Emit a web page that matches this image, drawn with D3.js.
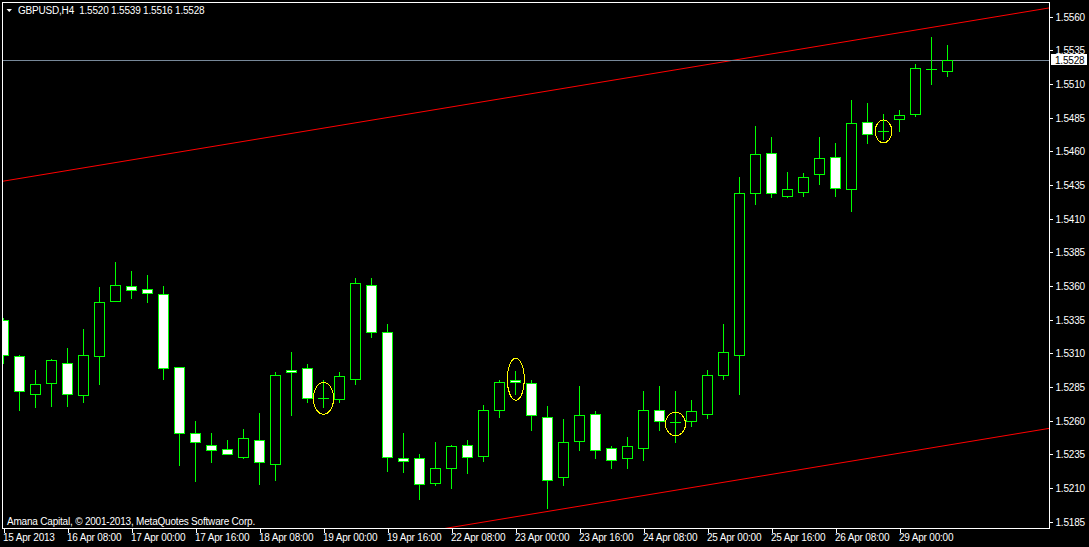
<!DOCTYPE html>
<html>
<head>
<meta charset="utf-8">
<script src="https://cdn.jsdelivr.net/npm/d3@7"></script>
<style>
  html, body { margin: 0; padding: 0; background: #000; }
  svg { display: block; }
  text { font-family: "Liberation Sans", Arial, sans-serif; font-size: 10px; white-space: pre; letter-spacing: -0.2px; }
</style>
</head>
<body>
<svg id="chart" width="1089" height="547"></svg>
<script>
// ---------------- DATA ----------------
const symbol = "GBPUSD";
const timeframe = "H4";
const times = [
  "2013.04.15 16:00","2013.04.15 20:00",
  "2013.04.16 00:00","2013.04.16 04:00","2013.04.16 08:00","2013.04.16 12:00","2013.04.16 16:00","2013.04.16 20:00",
  "2013.04.17 00:00","2013.04.17 04:00","2013.04.17 08:00","2013.04.17 12:00","2013.04.17 16:00","2013.04.17 20:00",
  "2013.04.18 00:00","2013.04.18 04:00","2013.04.18 08:00","2013.04.18 12:00","2013.04.18 16:00","2013.04.18 20:00",
  "2013.04.19 00:00","2013.04.19 04:00","2013.04.19 08:00","2013.04.19 12:00","2013.04.19 16:00","2013.04.19 20:00",
  "2013.04.22 00:00","2013.04.22 04:00","2013.04.22 08:00","2013.04.22 12:00","2013.04.22 16:00","2013.04.22 20:00",
  "2013.04.23 00:00","2013.04.23 04:00","2013.04.23 08:00","2013.04.23 12:00","2013.04.23 16:00","2013.04.23 20:00",
  "2013.04.24 00:00","2013.04.24 04:00","2013.04.24 08:00","2013.04.24 12:00","2013.04.24 16:00","2013.04.24 20:00",
  "2013.04.25 00:00","2013.04.25 04:00","2013.04.25 08:00","2013.04.25 12:00","2013.04.25 16:00","2013.04.25 20:00",
  "2013.04.26 00:00","2013.04.26 04:00","2013.04.26 08:00","2013.04.26 12:00","2013.04.26 16:00","2013.04.26 20:00",
  "2013.04.29 00:00","2013.04.29 04:00","2013.04.29 08:00","2013.04.29 12:00"
];
const open = [
  1.5335,1.5308,1.5280,1.5288,1.5303,1.5279,1.5308,1.5349,1.5360,1.5358,
  1.5354,1.5300,1.5251,1.5242,1.5239,1.5233,1.5246,1.5228,1.5298,1.5299,
  1.5277,1.5276,1.5291,1.5361,1.5326,1.5232,1.5232,1.5214,1.5225,1.5242,
  1.5234,1.5268,1.5290,1.5288,1.5263,1.5218,1.5245,1.5265,1.5240,1.5232,
  1.5240,1.5268,1.5259,1.5260,1.5265,1.5294,1.5309,1.5429,1.5459,1.5427,
  1.5430,1.5443,1.5456,1.5432,1.5482,1.5475,1.5484,1.5488,1.5521,1.5520
];
const high = [
  1.5336,1.5309,1.5298,1.5306,1.5314,1.5328,1.5359,1.5378,1.5371,1.5368,
  1.5360,1.5300,1.5260,1.5251,1.5246,1.5254,1.5266,1.5296,1.5311,1.5302,
  1.5290,1.5296,1.5366,1.5366,1.5332,1.5251,1.5235,1.5244,1.5242,1.5246,
  1.5272,1.5290,1.5297,1.5290,1.5271,1.5261,1.5286,1.5267,1.5241,1.5248,
  1.5282,1.5286,1.5282,1.5275,1.5298,1.5332,1.5441,1.5479,1.5471,1.5445,
  1.5444,1.5471,1.5466,1.5498,1.5496,1.5488,1.5491,1.5525,1.5545,1.5539
];
const low = [
  1.5303,1.5268,1.5270,1.5271,1.5271,1.5274,1.5287,1.5349,1.5351,1.5348,
  1.5291,1.5227,1.5215,1.5229,1.5235,1.5232,1.5213,1.5216,1.5264,1.5274,
  1.5270,1.5274,1.5287,1.5322,1.5223,1.5222,1.5202,1.5212,1.5210,1.5221,
  1.5230,1.5263,1.5280,1.5253,1.5195,1.5212,1.5238,1.5232,1.5225,1.5225,
  1.5231,1.5253,1.5244,1.5256,1.5262,1.5291,1.5280,1.5421,1.5426,1.5426,
  1.5427,1.5436,1.5427,1.5416,1.5466,1.5469,1.5475,1.5486,1.5510,1.5516
];
const close = [
  1.5309,1.5282,1.5287,1.5305,1.5280,1.5309,1.5348,1.5361,1.5357,1.5355,
  1.5299,1.5251,1.5244,1.5238,1.5235,1.5247,1.5229,1.5294,1.5296,1.5277,
  1.5277,1.5293,1.5362,1.5326,1.5233,1.5230,1.5213,1.5225,1.5241,1.5233,
  1.5268,1.5289,1.5289,1.5264,1.5216,1.5244,1.5264,1.5238,1.5231,1.5241,
  1.5268,1.5260,1.5259,1.5267,1.5294,1.5311,1.5429,1.5458,1.5429,1.5432,
  1.5441,1.5455,1.5433,1.5481,1.5473,1.5475,1.5487,1.5522,1.5521,1.5528
];
const priceTicks = [1.5560,1.5535,1.5510,1.5485,1.5460,1.5435,1.5410,1.5385,1.5360,1.5335,1.5310,1.5285,1.5260,1.5235,1.5210,1.5185];
const timeTicks = [
  "2013.04.15 16:00","2013.04.16 08:00","2013.04.17 00:00","2013.04.17 16:00","2013.04.18 08:00",
  "2013.04.19 00:00","2013.04.19 16:00","2013.04.22 08:00","2013.04.23 00:00","2013.04.23 16:00",
  "2013.04.24 08:00","2013.04.25 00:00","2013.04.25 16:00","2013.04.26 08:00","2013.04.29 00:00"
];
const timeTickLabels = [
  "15 Apr 2013","16 Apr 08:00","17 Apr 00:00","17 Apr 16:00","18 Apr 08:00",
  "19 Apr 00:00","19 Apr 16:00","22 Apr 08:00","23 Apr 00:00","23 Apr 16:00",
  "24 Apr 08:00","25 Apr 00:00","25 Apr 16:00","26 Apr 08:00","29 Apr 00:00"
];
// trend channel anchors (bar time, price)
const upperTrendTimes = ["2013.04.15 16:00","2013.04.29 12:00"];
const upperTrendPrices = [1.54379, 1.55540];
const lowerTrendTimes = ["2013.04.15 16:00","2013.04.29 12:00"];
const lowerTrendPrices = [1.51257, 1.52418];
// ellipse objects: centre bar, half width in bars, top / bottom price
const ellipseBars = [20, 32.02, 42, 55];
const ellipseHalfBars = [0.63, 0.53, 0.63, 0.52];
const ellipseTop = [1.52885, 1.53064, 1.52662, 1.54833];
const ellipseBottom = [1.52648, 1.52752, 1.52489, 1.54664];
const copyright = "Amana Capital, \u00A9 2001-2013, MetaQuotes Software Corp.";

// ---------------- LAYOUT ----------------
const frame = {left: 2.5, top: 2.5, right: 1049.5, bottom: 528.5};
const svg = d3.select("#chart");
svg.append("rect").attr("width", 1089).attr("height", 547).attr("fill", "#000");

const idx = t => times.indexOf(t);
const x = d3.scaleLinear().domain([0, times.length - 1]).range([3.5, 3.5 + 16 * (times.length - 1)]);
const y = d3.scaleLinear().domain([1.5185, 1.5560]).range([521.7, 16.7]);
const sy = v => Math.round(y(v)) + 0.5;

svg.append("clipPath").attr("id", "plotclip")
  .append("rect").attr("x", 3).attr("y", 3).attr("width", 1046).attr("height", 525);

const plot = svg.append("g").attr("clip-path", "url(#plotclip)");

// trend lines (rays extended across the plot)
function trend(tArr, pArr) {
  const i0 = idx(tArr[0]), i1 = idx(tArr[1]);
  const slope = (pArr[1] - pArr[0]) / (i1 - i0);
  const iL = x.invert(frame.left), iR = x.invert(frame.right);
  const pt = i => [x(i), y(pArr[0] + slope * (i - i0))];
  return [pt(iL), pt(iR)];
}
plot.selectAll("path.trend")
  .data([trend(upperTrendTimes, upperTrendPrices), trend(lowerTrendTimes, lowerTrendPrices)])
  .join("path").attr("class", "trend")
  .attr("d", d3.line())
  .attr("stroke", "#ff0000").attr("stroke-width", 1).attr("fill", "none");

// bid line
plot.append("line")
  .attr("x1", frame.left).attr("x2", frame.right)
  .attr("y1", sy(close[close.length - 1])).attr("y2", sy(close[close.length - 1]))
  .attr("stroke", "#778899").attr("stroke-width", 1);

// candles
const bars = times.map((t, i) => ({t, i, o: open[i], h: high[i], l: low[i], c: close[i]}));
const cg = plot.append("g").attr("shape-rendering", "crispEdges");
cg.selectAll("line.wick").data(bars).join("line").attr("class", "wick")
  .attr("x1", d => x(d.i)).attr("x2", d => x(d.i))
  .attr("y1", d => Math.round(y(d.h))).attr("y2", d => Math.round(y(d.l)) + 1)
  .attr("stroke", "#00ff00").attr("stroke-width", 1);
cg.selectAll("rect.body").data(bars.filter(d => Math.abs(d.o - d.c) > 0.00001)).join("rect").attr("class", "body")
  .attr("x", d => x(d.i) - 5)
  .attr("y", d => sy(Math.max(d.o, d.c)))
  .attr("width", 10)
  .attr("height", d => Math.max(1, sy(Math.min(d.o, d.c)) - sy(Math.max(d.o, d.c))))
  .attr("fill", d => d.c < d.o ? "#ffffff" : "#000000")
  .attr("stroke", "#00ff00").attr("stroke-width", 1);
cg.selectAll("line.doji").data(bars.filter(d => Math.abs(d.o - d.c) <= 0.00001)).join("line").attr("class", "doji")
  .attr("x1", d => x(d.i) - 5.5).attr("x2", d => x(d.i) + 5.5)
  .attr("y1", d => sy(d.o)).attr("y2", d => sy(d.o))
  .attr("stroke", "#00ff00").attr("stroke-width", 1);

// ellipses
plot.selectAll("ellipse.obj").data(ellipseBars.map((b, k) => k)).join("ellipse").attr("class", "obj")
  .attr("cx", k => x(ellipseBars[k]))
  .attr("cy", k => (y(ellipseTop[k]) + y(ellipseBottom[k])) / 2)
  .attr("rx", k => x(ellipseBars[k] + ellipseHalfBars[k]) - x(ellipseBars[k]))
  .attr("ry", k => (y(ellipseBottom[k]) - y(ellipseTop[k])) / 2)
  .attr("fill", "none").attr("stroke", "#ffff00").attr("stroke-width", 1)
  .attr("shape-rendering", "crispEdges");

// frame
svg.append("rect")
  .attr("x", frame.left).attr("y", frame.top)
  .attr("width", frame.right - frame.left).attr("height", frame.bottom - frame.top)
  .attr("fill", "none").attr("stroke", "#ffffff").attr("stroke-width", 1)
  .attr("shape-rendering", "crispEdges");

// price axis
const yAxisScale = y.copy().interpolate(d3.interpolateRound);
const yAxis = svg.append("g").attr("transform", `translate(${frame.right},0)`)
  .call(d3.axisRight(yAxisScale).tickValues(priceTicks).tickSize(3).tickPadding(3).tickFormat(d3.format(".4f")));
yAxis.select(".domain").remove();
yAxis.selectAll(".tick line").attr("stroke", "#fff").attr("shape-rendering", "crispEdges");
yAxis.selectAll(".tick text").attr("fill", "#fff").attr("font-size", 10).attr("dy", "0.35em")
  .attr("font-family", "Liberation Sans, Arial, sans-serif");

// time axis
const xAxis = svg.append("g").attr("transform", `translate(0,${frame.bottom})`)
  .call(d3.axisBottom(x).tickValues(timeTicks.map(idx)).tickSize(4).tickPadding(1.5)
    .tickFormat((d, k) => timeTickLabels[k]));
xAxis.select(".domain").remove();
xAxis.selectAll(".tick line").attr("stroke", "#fff").attr("shape-rendering", "crispEdges");
xAxis.selectAll(".tick text").attr("fill", "#fff").attr("text-anchor", "start").attr("x", -1)
  .attr("font-size", 10).attr("font-family", "Liberation Sans, Arial, sans-serif");

// current price label
const last = close.length - 1;
const bidY = sy(close[last]);
svg.append("rect").attr("x", frame.right + 1.5).attr("y", bidY - 6.5).attr("width", 36).attr("height", 11).attr("fill", "#fff");
svg.append("text").attr("x", 1055).attr("y", bidY + 3.5).attr("fill", "#000").text(d3.format(".4f")(close[last]));

// header
svg.append("path").attr("d", "M6.5,9 L12,9 L9.25,12 Z").attr("fill", "#fff");
const f4 = d3.format(".4f");
svg.append("text").attr("x", 18).attr("y", 14).attr("fill", "#fff")
  .text(`${symbol},${timeframe}  ${f4(open[last])} ${f4(high[last])} ${f4(low[last])} ${f4(close[last])}`);

// copyright
svg.append("text").attr("x", 7).attr("y", 525).attr("fill", "#fff").text(copyright);
</script>
</body>
</html>
